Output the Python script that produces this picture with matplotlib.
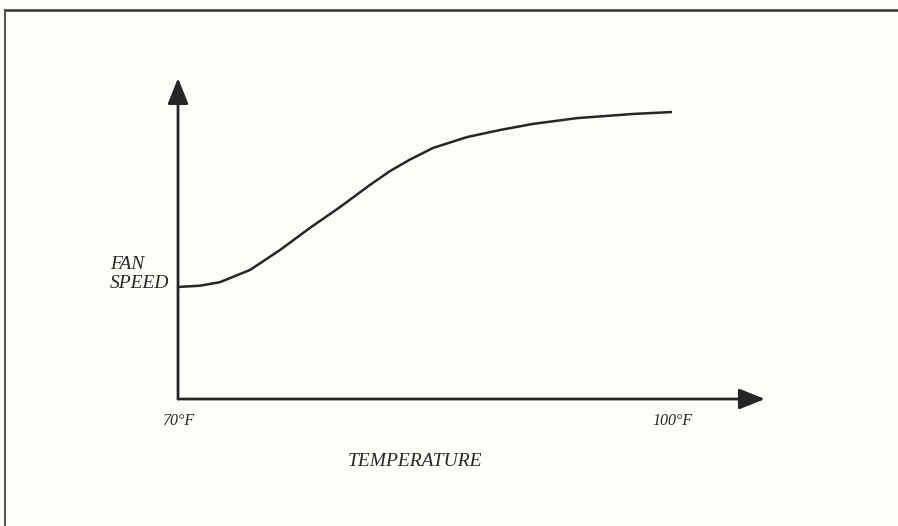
import matplotlib
matplotlib.use("Agg")
import matplotlib.pyplot as plt
from matplotlib.lines import Line2D

# Fan speed response curve (temperature in °F, fan speed in % of full scale)
temperature = [70.0, 71.34, 72.55, 74.37, 76.19, 78.01, 79.84, 81.66, 82.87,
               84.09, 85.48, 87.55, 89.55, 91.55, 94.23, 97.63, 100.0]
fan_speed = [34.9, 35.3, 36.4, 40.2, 46.4, 53.3, 59.8, 66.7, 71.0,
             74.6, 78.2, 81.6, 83.8, 85.7, 87.5, 88.8, 89.4]
tick_values = [70, 100]
tick_labels = ["70°F", "100°F"]
x_label = "TEMPERATURE"
y_label = "FAN\nSPEED"

W, H = 898, 526
ink = "#262626"
bg = "#fdfdfa"

fig = plt.figure(figsize=(W / 100, H / 100), dpi=100, facecolor=bg)
ax = fig.add_axes([0, 0, 1, 1])
ax.set_facecolor(bg)
ax.set_xlim(59.19, 113.72)
ax.set_ylim(-39.56, 124.3)
ax.axis("off")

serif = ["Liberation Serif", "DejaVu Serif"]

# axes with arrowheads
arrow = dict(arrowstyle="-|>,head_length=1.05,head_width=0.42", lw=2.0,
             color=ink, shrinkA=0, shrinkB=0, mutation_scale=15)
ax.annotate("", xy=(70, 100), xytext=(70, 0), arrowprops=arrow)
ax.annotate("", xy=(105.64, 0), xytext=(70, 0), arrowprops=arrow)

# response curve
ax.plot(temperature, fan_speed, color=ink, lw=1.8, solid_capstyle="butt",
        solid_joinstyle="round")

# end-point labels on the temperature axis
for t, lab in zip(tick_values, tick_labels):
    ax.annotate(lab, xy=(t, 0), xytext=(0, -22), textcoords="offset pixels",
                ha="center", va="center", fontsize=11.5, style="italic",
                family=serif, color=ink)

fig.text(415 / W, 1 - 461 / H, x_label, ha="center", va="center",
         fontsize=14, style="italic", family=serif, color=ink)
fig.text(110 / W, 1 - 274 / H, y_label, ha="left", va="center",
         fontsize=14, style="italic", family=serif, color=ink,
         linespacing=1.2)

# frame around the figure (top and left edges)
fig.add_artist(Line2D([5 / W, 1.0], [1 - 10 / H, 1 - 10 / H],
                      transform=fig.transFigure, color="#333333", lw=1.8))
fig.add_artist(Line2D([5 / W, 5 / W], [0.0, 1 - 10 / H],
                      transform=fig.transFigure, color="#555555", lw=1.5))

fig.savefig("out.png", dpi=100, facecolor=bg)
